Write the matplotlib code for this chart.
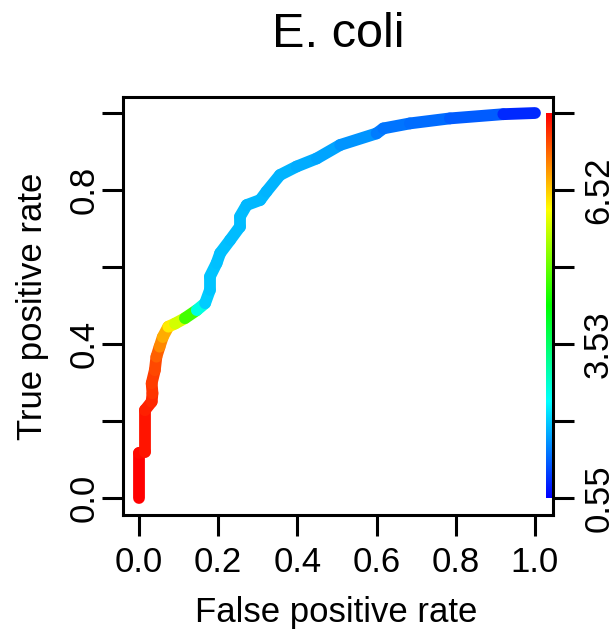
import numpy as np
import matplotlib
matplotlib.use('Agg')
import matplotlib.pyplot as plt
from matplotlib.collections import LineCollection
from matplotlib.colors import ListedColormap, Normalize, hsv_to_rgb

plt.rcParams['font.family'] = ['Liberation Sans', 'DejaVu Sans']

# ROC curve points
fpr = [0.0, 0.0, 0.015, 0.015, 0.032, 0.034, 0.032, 0.040, 0.044, 0.052, 0.060, 0.074,
       0.091, 0.116, 0.146, 0.167, 0.179, 0.179, 0.196, 0.205, 0.230, 0.255, 0.255,
       0.272, 0.306, 0.322, 0.356, 0.398, 0.449, 0.508, 0.600, 0.617, 0.684, 0.785,
       0.920, 1.0]
tpr = [0.0, 0.117, 0.120, 0.228, 0.250, 0.272, 0.298, 0.332, 0.367, 0.393, 0.418, 0.445,
       0.453, 0.467, 0.488, 0.506, 0.540, 0.575, 0.610, 0.636, 0.670, 0.705, 0.731,
       0.761, 0.774, 0.796, 0.839, 0.861, 0.882, 0.917, 0.947, 0.960, 0.973, 0.986,
       0.997, 1.0]
# cutoff at each point (sets the colour)
cutoff = [8.00, 7.95, 7.85, 7.76, 7.70, 7.62, 7.55, 7.48, 7.31, 7.00, 6.73, 6.27,
          5.80, 4.75, 2.63, 2.05, 2.00, 1.98, 1.96, 1.95, 1.94, 1.93, 1.92,
          1.91, 1.90, 1.89, 1.87, 1.82, 1.76, 1.64, 1.48, 1.42, 1.34, 1.24,
          0.85, 0.55]

cut_min, cut_max = 0.55, 8.01
right_ticks = [0.0, 0.2, 0.4, 0.6, 0.8, 1.0]
right_labels = ['0.55', '', '3.53', '', '6.52', '']
left_labels = ['0.0', '', '0.4', '', '0.8', '']
bottom_labels = ['0.0', '0.2', '0.4', '0.6', '0.8', '1.0']

# R rainbow(start=0, end=4/6), low cutoff = blue, high = red
hues = np.linspace(4 / 6, 0, 256)
rainbow = ListedColormap(hsv_to_rgb(np.column_stack([hues, np.ones(256), np.ones(256)])))

fig = plt.figure(figsize=(6.16, 6.33), dpi=100)
ax = fig.add_axes([123 / 616, 1 - 515 / 633, 430 / 616, 418 / 633])
ax.set_xlim(-0.0404, 1.0455)
ax.set_ylim(-0.0442, 1.0416)

pts = np.column_stack([fpr, tpr])
segs = np.stack([pts[:-1], pts[1:]], axis=1)
lc = LineCollection(segs, cmap=rainbow, norm=Normalize(cut_min, cut_max),
                    linewidths=8.5, capstyle='round', joinstyle='round')
lc.set_array(np.array(cutoff[:-1]))
ax.add_collection(lc)

# colour key along the right edge
ax.imshow(np.linspace(0, 1, 256).reshape(-1, 1), cmap=rainbow, origin='lower',
          extent=[1.027, 1.042, 0, 1], aspect='auto', zorder=3)

for s in ax.spines.values():
    s.set_linewidth(2.2)

ax.set_xticks(right_ticks)
ax.set_xticklabels(bottom_labels)
ax.set_yticks(right_ticks)
ax.set_yticklabels(left_labels, rotation=90, va='center')
ax.tick_params(axis='both', length=15, width=2.2, labelsize=25, direction='out')
ax.tick_params(axis='x', pad=7)
ax.tick_params(axis='y', pad=1)

ax2 = ax.twinx()
ax2.set_ylim(ax.get_ylim())
ax2.set_yticks(right_ticks)
ax2.set_yticklabels(right_labels, rotation=90, va='center')
ax2.tick_params(axis='y', length=15, width=2.2, labelsize=25, pad=6)
for s in ax2.spines.values():
    s.set_visible(False)

fig.text(338 / 616, 1 - 47 / 633, 'E. coli', fontsize=35, ha='center', va='baseline')
fig.text(336 / 616, 1 - 622 / 633, 'False positive rate', fontsize=25, ha='center', va='baseline')
fig.text(42 / 616, 1 - 306 / 633, 'True positive rate', fontsize=25, rotation=90,
         rotation_mode='anchor', ha='center', va='baseline')

fig.savefig('out.png', dpi=100)
